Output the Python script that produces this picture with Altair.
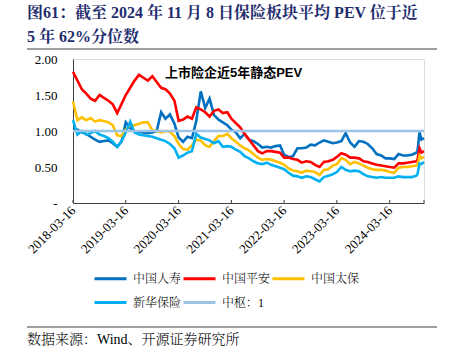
import altair as alt
import pandas as pd

# ---------------- data ----------------
months = pd.date_range("2018-03-16", periods=79, freq=pd.DateOffset(months=1))
tail_dates = ["2024-09-24", "2024-10-08", "2024-10-21", "2024-11-08"]
dates = [d.strftime("%Y-%m-%d") for d in months] + tail_dates

series_names = ["中国人寿", "中国平安", "中国太保", "新华保险", "中枢：1"]
series_colors = ["#0070C0", "#FF0000", "#FFC000", "#00B0F0", "#9DC3E6"]

china_life = [1.04, 1.02, 0.98, 0.96, 0.92, 0.88, 0.85, 0.86, 0.87, 0.83,
              0.78, 0.86, 1.12, 1.04, 1.00, 0.99, 0.98, 0.97, 0.98, 1.00,
              1.26, 1.17, 1.23, 1.10, 0.91, 0.85, 0.92, 0.90, 1.14, 1.55,
              1.32, 1.45, 1.22, 1.16, 1.12, 1.08, 1.02, 0.98, 0.90, 0.96,
              0.88, 0.86, 0.82, 0.77, 0.78, 0.77, 0.79, 0.80, 0.67, 0.64,
              0.65, 0.76, 0.76, 0.77, 0.81, 0.80, 0.84, 0.87, 0.85, 0.83,
              0.84, 0.86, 0.97, 0.84, 0.78, 0.86, 0.85, 0.82, 0.76, 0.68,
              0.66, 0.62, 0.62, 0.61, 0.68, 0.66, 0.66, 0.67, 0.70,
              0.72, 0.98, 0.88, 0.90]
ping_an = [1.82, 1.70, 1.58, 1.52, 1.45, 1.42, 1.50, 1.46, 1.42, 1.37,
           1.25, 1.38, 1.50, 1.60, 1.70, 1.78, 1.74, 1.70, 1.76, 1.68,
           1.60, 1.58, 1.52, 1.42, 1.14, 1.16, 1.20, 1.17, 1.33, 1.30,
           1.26, 1.20, 1.28, 1.30, 1.25, 1.26, 1.17, 1.11, 1.05, 0.96,
           0.88, 0.80, 0.72, 0.69, 0.72, 0.72, 0.71, 0.70, 0.63, 0.63,
           0.61, 0.60, 0.56, 0.58, 0.57, 0.53, 0.50, 0.57, 0.58, 0.60,
           0.64, 0.69, 0.67, 0.63, 0.63, 0.62, 0.58, 0.57, 0.55, 0.53,
           0.52, 0.51, 0.50, 0.49, 0.55, 0.55, 0.56, 0.57, 0.58,
           0.60, 0.76, 0.70, 0.72]
cpic = [1.41, 1.15, 1.19, 1.15, 1.18, 1.13, 1.15, 1.14, 1.12, 1.08,
        0.94, 0.93, 1.02, 1.08, 1.08, 1.10, 1.12, 1.12, 1.01, 1.00,
        0.98, 1.00, 0.99, 0.93, 0.82, 0.75, 0.74, 0.80, 0.88, 0.87,
        0.80, 0.78, 0.86, 0.93, 0.93, 0.96, 0.90, 0.85, 0.80, 0.76,
        0.73, 0.68, 0.63, 0.60, 0.61, 0.60, 0.58, 0.56, 0.53, 0.48,
        0.45, 0.44, 0.42, 0.45, 0.44, 0.43, 0.39, 0.46, 0.47, 0.52,
        0.54, 0.62, 0.60, 0.54, 0.57, 0.55, 0.52, 0.49, 0.47, 0.46,
        0.46, 0.45, 0.43, 0.42, 0.49, 0.50, 0.50, 0.51, 0.52,
        0.53, 0.66, 0.62, 0.64]
nci = [1.15, 0.95, 1.00, 0.95, 0.97, 1.00, 0.95, 0.93, 0.90, 0.85,
       0.78, 0.86, 0.98, 1.13, 0.98, 0.95, 0.94, 0.93, 0.92, 0.90,
       0.88, 0.86, 0.82, 0.76, 0.63, 0.66, 0.70, 0.72, 0.96, 0.91,
       0.89, 0.87, 0.83, 0.86, 0.78, 0.79, 0.78, 0.74, 0.71, 0.65,
       0.62, 0.58, 0.55, 0.54, 0.56, 0.53, 0.51, 0.49, 0.47, 0.42,
       0.38, 0.37, 0.35, 0.37, 0.36, 0.33, 0.30, 0.36, 0.38, 0.40,
       0.43, 0.50, 0.46, 0.44, 0.45, 0.44, 0.40, 0.37, 0.36, 0.35,
       0.36, 0.35, 0.35, 0.35, 0.37, 0.36, 0.36, 0.36, 0.38,
       0.40, 0.55, 0.54, 0.57]
center_value = 1.0

tick_dates = ["2018-03-16", "2019-03-16", "2020-03-16", "2021-03-16",
              "2022-03-16", "2023-03-16", "2024-03-16"]
y_ticks = [0, 0.5, 1.0, 1.5, 2.0]

title_line1 = "图61：截至 2024 年 11 月 8 日保险板块平均 PEV 位于近"
title_line2 = "5 年 62%分位数"
note_text = "上市险企近5年静态PEV"
source_text = "数据来源：Wind、开源证券研究所"

# ---------------- build table ----------------
values_map = {
    "中国人寿": china_life,
    "中国平安": ping_an,
    "中国太保": cpic,
    "新华保险": nci,
    "中枢：1": [center_value] * len(dates),
}
rows = []
for name in series_names:
    for d, v in zip(dates, values_map[name]):
        rows.append({"date": d, "value": v, "series": name})
df = pd.DataFrame(rows)


def to_ms(s):
    return int(pd.Timestamp(s, tz="UTC").timestamp() * 1000)


df["t"] = df["date"].apply(to_ms)
tick_ms = [to_ms(s) for s in tick_dates]
x_domain = [to_ms(dates[0]), to_ms(dates[-1])]

SERIF = "Liberation Serif, Noto Serif CJK SC, Noto Sans CJK SC"
W, H = 351, 144

x_axis = alt.Axis(
    values=tick_ms, labelExpr="utcFormat(datum.value, '%Y-%m-%d')",
    labelAngle=-45, labelAlign="right", labelBaseline="middle", labelPadding=5,
    labelFont=SERIF, labelFontSize=13, labelColor="#000000",
    ticks=False, tickSize=0, grid=False, domainColor="#404040",
    domainWidth=1, title=None, labelOverlap=False, labelFlush=False,
)
y_axis = alt.Axis(
    values=y_ticks,
    labelExpr="datum.value == 0 ? '-\u00a0\u00a0\u00a0' : format(datum.value, '.2f')",
    labelFont=SERIF, labelFontSize=13, labelColor="#000000",
    ticks=False, tickSize=0, labelPadding=16, grid=False,
    labelOverlap=False, labelFlush=False,
    domainColor="#404040", domainWidth=1, title=None,
)
x_enc = alt.X("t:T", scale=alt.Scale(type="utc", domain=x_domain), axis=x_axis)
y_enc = alt.Y("value:Q", scale=alt.Scale(domain=[0, 2]), axis=y_axis)
color_enc = alt.Color(
    "series:N",
    scale=alt.Scale(domain=series_names, range=series_colors),
    legend=alt.Legend(
        orient="none", legendX=20, legendY=202, columns=3, direction="horizontal",
        symbolType="stroke", symbolSize=1024, symbolStrokeWidth=3,
        labelFont=SERIF, labelFontSize=12, labelFontWeight=300,
        labelColor="#000000", labelOffset=5,
        columnPadding=-9, rowPadding=-4, title=None, padding=0,
    ),
)

base = alt.Chart(df)
layers = []
for name in series_names:
    layers.append(
        base.transform_filter(alt.datum.series == name)
        .mark_line(strokeWidth=2.6)
        .encode(x=x_enc, y=y_enc, color=color_enc)
    )

# small inward ticks on the x axis
tick_df = pd.DataFrame({"t": tick_ms + [x_domain[1]]})
ticks_layer = alt.Chart(tick_df).mark_rule(color="#404040", strokeWidth=1).encode(
    x=x_enc, y=alt.value(H - 3), y2=alt.value(H)
)

note_df = pd.DataFrame({"t": [to_ms("2021-03-31")], "value": [1.81], "label": [note_text]})
note_layer = alt.Chart(note_df).mark_text(
    font="Liberation Sans, Noto Sans CJK SC", fontSize=13, fontWeight="bold",
    color="#000000", align="center", baseline="middle",
).encode(x=x_enc, y=y_enc, text="label:N")

title1 = alt.Chart(pd.DataFrame({"s": [title_line1]})).mark_text(
    font=SERIF, fontSize=16, fontWeight="bold", color="#1F2D6E",
    align="left", baseline="alphabetic",
).encode(x=alt.value(-46), y=alt.value(-41), text="s:N")
title2 = alt.Chart(pd.DataFrame({"s": [title_line2]})).mark_text(
    font=SERIF, fontSize=16, fontWeight="bold", color="#1F2D6E",
    align="left", baseline="alphabetic",
).encode(x=alt.value(-46), y=alt.value(-17), text="s:N")

rule_top = alt.Chart(pd.DataFrame({"a": [0]})).mark_rule(
    color="#7F7F7F", strokeWidth=1.5
).encode(x=alt.value(-46), x2=alt.value(364), y=alt.value(-10))
rule_bottom = alt.Chart(pd.DataFrame({"a": [0]})).mark_rule(
    color="#7F7F7F", strokeWidth=1.5
).encode(x=alt.value(-46), x2=alt.value(364), y=alt.value(268))

source = alt.Chart(pd.DataFrame({"s": [source_text]})).mark_text(
    font=SERIF, fontSize=14, fontWeight=300, color="#000000", align="left",
    baseline="alphabetic",
).encode(x=alt.value(-46), y=alt.value(285), text="s:N")

chart = alt.layer(
    *layers, ticks_layer, note_layer, title1, title2, rule_top, rule_bottom, source
).properties(
    width=W, height=H,
    autosize=alt.AutoSizeParams(type="none"),
    padding={"left": 73, "top": 59, "right": 31, "bottom": 153},
).configure_view(stroke=None).configure(background="white")

chart.save("out.html", embed_options={"renderer": "svg", "actions": False})
